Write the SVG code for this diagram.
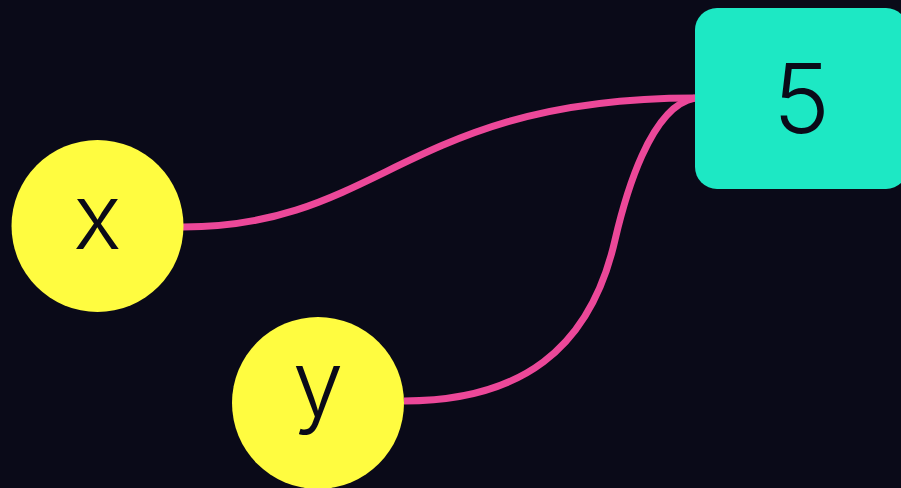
<svg xmlns="http://www.w3.org/2000/svg" width="901" height="488" viewBox="0 0 901 488">
<style>
.bg{fill:#0a0a18}
.var{fill:#fffc40}
.val{fill:#1de8c4}
.edge{fill:none;stroke:#ec4899;stroke-width:7;stroke-linecap:butt}
.lbl{font-family:Inter,"Open Sans","Liberation Sans",sans-serif;font-weight:300;fill:#0a0a18;text-anchor:middle}
</style>
<rect class="bg" x="0" y="0" width="901" height="488"/>
<g id="connectors">
<path class="edge" d="M183,227 C381,227 406,98 695,98"/>
<path class="edge" d="M404,401 C520,401 590,350 615,240 C625,197 650,106 695,98"/>
</g>
<g id="node-5">
<rect class="val" x="695" y="8" width="213" height="181" rx="22" ry="22"/>
<text class="lbl" x="801.5" y="133" font-size="96">5</text>
</g>
<g id="node-x">
<circle class="var" cx="97.5" cy="226" r="86"/>
<text class="lbl" x="97.5" y="249" font-size="91">x</text>
</g>
<g id="node-y">
<circle class="var" cx="318" cy="403" r="86"/>
<text class="lbl" x="318" y="416" font-size="91">y</text>
</g>
</svg>
